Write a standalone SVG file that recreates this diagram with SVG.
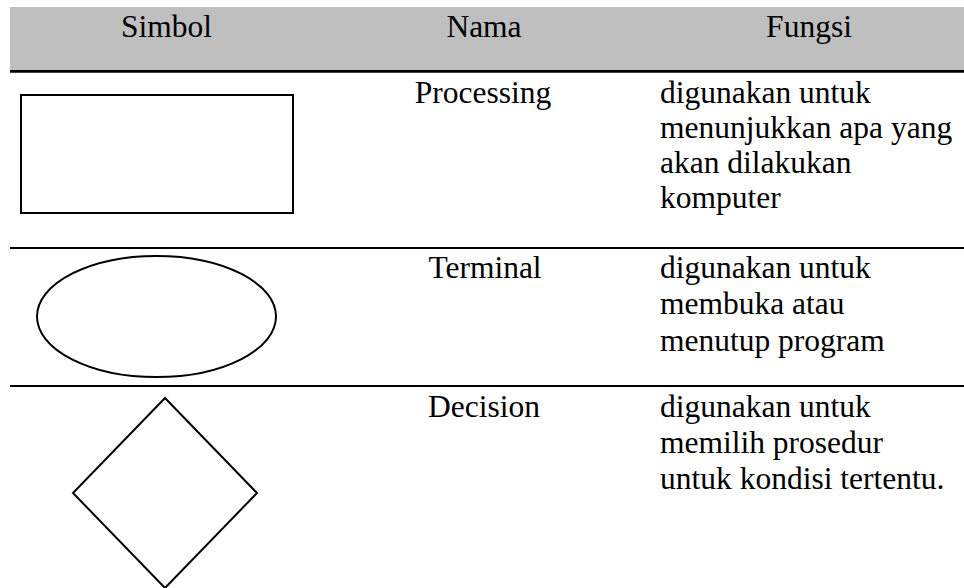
<svg xmlns="http://www.w3.org/2000/svg" width="964" height="588" viewBox="0 0 964 588">
  <style>
    text { font-family: "Liberation Serif", "Times New Roman", serif; font-size: 31.5px; fill: #000; }
    .c { text-anchor: middle; }
    .rule { stroke: #000; stroke-width: 2; }
    .shape { fill: #fff; stroke: #000; stroke-width: 2; }
  </style>
  <rect x="0" y="0" width="964" height="588" fill="#fff"/>

  <g id="header">
    <rect x="10" y="7" width="954" height="63" fill="#bfbfbf"/>
    <line x1="10" y1="71.3" x2="964" y2="71.3" stroke="#000" stroke-width="2.8"/>
    <text class="c" x="166.5" y="36.7">Simbol</text>
    <text class="c" x="484" y="36.7">Nama</text>
    <text class="c" x="809" y="36.7">Fungsi</text>
  </g>

  <g id="rules">
    <line class="rule" x1="10" y1="248" x2="964" y2="248"/>
    <line class="rule" x1="10" y1="386" x2="964" y2="386"/>
  </g>

  <g id="row-processing">
    <rect class="shape" x="21" y="95" width="272" height="118"/>
    <text class="c" x="483" y="103">Processing</text>
    <text x="660" y="103">digunakan untuk</text>
    <text x="660" y="138.3">menunjukkan apa yang</text>
    <text x="660" y="173">akan dilakukan</text>
    <text x="660" y="208">komputer</text>
  </g>

  <g id="row-terminal">
    <ellipse class="shape" cx="156.5" cy="316.5" rx="119.5" ry="60.5" stroke-width="1.8"/>
    <text class="c" x="485" y="277.5">Terminal</text>
    <text x="660" y="277.5">digunakan untuk</text>
    <text x="660" y="314">membuka atau</text>
    <text x="660" y="350.5">menutup program</text>
  </g>

  <g id="row-decision">
    <polygon class="shape" points="165,398 257,493 165,588 73,493" stroke-width="1.7"/>
    <text class="c" x="484" y="417">Decision</text>
    <text x="660" y="417">digunakan untuk</text>
    <text x="660" y="453">memilih prosedur</text>
    <text x="660" y="489">untuk kondisi tertentu.</text>
  </g>
</svg>
